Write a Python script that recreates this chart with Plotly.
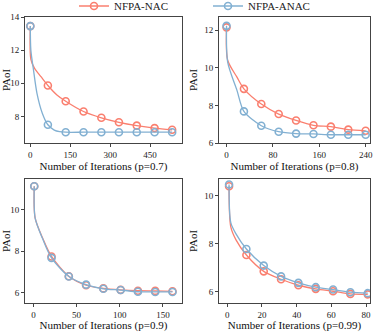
import plotly.graph_objects as go

RED = "#FA7F6F"
BLUE = "#82B0D2"
FONT = "Liberation Serif"

# ---------------- data ----------------
# p = 0.7
p07_mx = [0, 66, 133, 200, 267, 333, 400, 467, 533]
p07_nac = [13.45, 9.87, 8.92, 8.30, 7.92, 7.65, 7.45, 7.30, 7.20]
p07_anac = [13.45, 7.50, 7.05, 7.05, 7.05, 7.05, 7.05, 7.05, 7.05]
p07_nac_curve_x = [0, 2, 16, 40, 66, 100, 133, 200, 267, 333, 400, 467, 533]
p07_nac_curve_y = [13.45, 11.45, 10.90, 10.40, 9.87, 9.30, 8.92, 8.30, 7.92, 7.65, 7.45, 7.30, 7.20]
p07_anac_curve_x = [0, 2, 12, 25, 45, 66, 90, 110, 133, 200, 267, 333, 400, 467, 533]
p07_anac_curve_y = [13.45, 12.0, 10.8, 9.4, 8.2, 7.50, 7.18, 7.08, 7.05, 7.05, 7.05, 7.05, 7.05, 7.05, 7.05]

# p = 0.8
p08_mx = [0, 30, 60, 90, 120, 150, 180, 210, 240]
p08_nac = [12.15, 8.88, 8.07, 7.54, 7.20, 6.94, 6.87, 6.71, 6.65]
p08_anac = [12.23, 7.68, 6.92, 6.60, 6.50, 6.48, 6.44, 6.44, 6.44]
p08_nac_curve_x = [0, 2, 18, 30, 60, 90, 120, 150, 180, 210, 240]
p08_nac_curve_y = [12.15, 10.40, 9.50, 8.88, 8.07, 7.54, 7.20, 6.94, 6.87, 6.71, 6.65]
p08_anac_curve_x = [0, 2, 18, 30, 60, 90, 120, 150, 180, 210, 240]
p08_anac_curve_y = [12.23, 10.30, 8.80, 7.68, 6.92, 6.60, 6.50, 6.48, 6.44, 6.44, 6.44]

# p = 0.9
p09_mx = [1, 21, 41, 61, 81, 101, 121, 141, 161]
p09_nac = [11.11, 7.75, 6.80, 6.37, 6.22, 6.15, 6.11, 6.10, 6.08]
p09_anac = [11.11, 7.68, 6.79, 6.40, 6.20, 6.14, 6.06, 6.05, 6.05]
p09_nac_curve_x = [1, 2, 11, 21, 41, 61, 81, 101, 121, 141, 161]
p09_nac_curve_y = [11.11, 9.60, 8.60, 7.75, 6.80, 6.37, 6.22, 6.15, 6.11, 6.10, 6.08]
p09_anac_curve_x = [1, 2, 11, 21, 41, 61, 81, 101, 121, 141, 161]
p09_anac_curve_y = [11.11, 9.60, 8.57, 7.68, 6.79, 6.40, 6.20, 6.14, 6.06, 6.05, 6.05]

# p = 0.99
p099_mx = [1, 11, 21, 31, 41, 51, 61, 71, 81]
p099_nac = [10.39, 7.52, 6.84, 6.51, 6.26, 6.11, 6.01, 5.90, 5.88]
p099_anac = [10.46, 7.77, 7.08, 6.63, 6.36, 6.18, 6.08, 5.97, 5.93]
p099_nac_curve_x = [1, 2, 5, 11, 21, 31, 41, 51, 61, 71, 81]
p099_nac_curve_y = [10.39, 8.69, 8.15, 7.52, 6.84, 6.51, 6.26, 6.11, 6.01, 5.90, 5.88]
p099_anac_curve_x = [1, 2, 5, 11, 21, 31, 41, 51, 61, 71, 81]
p099_anac_curve_y = [10.46, 8.87, 8.40, 7.77, 7.08, 6.63, 6.36, 6.18, 6.08, 5.97, 5.93]

series_names = ["NFPA-NAC", "NFPA-ANAC"]
x_titles = ["Number of Iterations (p=0.7)", "Number of Iterations (p=0.8)",
            "Number of Iterations (p=0.9)", "Number of Iterations (p=0.99)"]
y_title = "PAoI"

x_ticks = [[0, 150, 300, 450], [0, 80, 160, 240], [0, 50, 100, 150], [0, 20, 40, 60, 80]]
y_ticks = [[8, 10, 12, 14], [6, 8, 10, 12], [6, 8, 10], [6, 8, 10]]
x_ranges = [[-20, 570], [-13, 247.5], [-9.7, 172], [-4.8, 82.3]]
y_ranges = [[6.4, 14.0], [6.0, 12.7], [5.52, 11.46], [5.52, 10.69]]

panels = [
    (p07_mx, p07_nac, p07_anac, p07_nac_curve_x, p07_nac_curve_y, p07_anac_curve_x, p07_anac_curve_y),
    (p08_mx, p08_nac, p08_anac, p08_nac_curve_x, p08_nac_curve_y, p08_anac_curve_x, p08_anac_curve_y),
    (p09_mx, p09_nac, p09_anac, p09_nac_curve_x, p09_nac_curve_y, p09_anac_curve_x, p09_anac_curve_y),
    (p099_mx, p099_nac, p099_anac, p099_nac_curve_x, p099_nac_curve_y, p099_anac_curve_x, p099_anac_curve_y),
]

W, H = 374, 332
# pixel boxes (left, right, top, bottom)
boxes = [(25, 182, 17, 143), (219, 370, 17, 143), (25, 182, 179, 303), (219, 370, 179, 303)]

fig = go.Figure()
colors = [RED, BLUE]
MARKER = dict(symbol="circle-open", size=7, line=dict(width=1.6))

for i, (mx, nac, anac, ncx, ncy, acx, acy) in enumerate(panels):
    xa = "x" if i == 0 else f"x{i+1}"
    ya = "y" if i == 0 else f"y{i+1}"
    for k, (cx, cy, my) in enumerate([(ncx, ncy, nac), (acx, acy, anac)]):
        fig.add_trace(go.Scatter(x=cx, y=cy, mode="lines", line=dict(color=colors[k], width=1.3, shape="spline", smoothing=0.8),
                                 showlegend=False, hoverinfo="skip", xaxis=xa, yaxis=ya))
        fig.add_trace(go.Scatter(x=mx, y=my, mode="markers", name=series_names[k],
                                 marker=dict(MARKER, color=colors[k]),
                                 showlegend=False, xaxis=xa, yaxis=ya))

# legend entries
for k in range(2):
    fig.add_trace(go.Scatter(x=[None], y=[None], mode="lines+markers", name=series_names[k],
                             line=dict(color=colors[k], width=1.3),
                             marker=dict(MARKER, color=colors[k]),
                             showlegend=True))

layout = dict(
    width=W, height=H,
    margin=dict(l=0, r=0, t=0, b=0, autoexpand=False),
    paper_bgcolor="white", plot_bgcolor="white",
    font=dict(family=FONT, size=11, color="#222"),
    showlegend=True,
    legend=dict(orientation="h", x=74 / W, y=1 - 6 / H, xanchor="left", yanchor="middle",
                entrywidth=89, entrywidthmode="pixels",
                font=dict(family=FONT, size=11, color="#222"), bgcolor="rgba(0,0,0,0)",
                itemwidth=30, tracegroupgap=0),
)
for i, (l, r, t, b) in enumerate(boxes):
    sfx = "" if i == 0 else str(i + 1)
    layout[f"xaxis{sfx}"] = dict(
        domain=[l / W, r / W], anchor=f"y{sfx}", range=x_ranges[i], tickvals=x_ticks[i],
        showgrid=False, zeroline=False, showline=True, linecolor="#444", linewidth=1, mirror=True,
        ticks="outside", ticklen=3, tickcolor="#444", tickfont=dict(family=FONT, size=9, color="#222"),
        title=dict(text=x_titles[i], font=dict(family=FONT, size=11, color="#111"), standoff=3),
        automargin=False,
    )
    layout[f"yaxis{sfx}"] = dict(
        domain=[1 - b / H, 1 - t / H], anchor=f"x{sfx}", range=y_ranges[i], tickvals=y_ticks[i],
        showgrid=False, zeroline=False, showline=True, linecolor="#444", linewidth=1, mirror=True,
        ticks="outside", ticklen=3, tickcolor="#444", tickfont=dict(family=FONT, size=9, color="#222"),
        title=dict(text=y_title, font=dict(family=FONT, size=11, color="#111"), standoff=4),
        automargin=False,
    )
fig.update_layout(**layout)
fig.write_html("out.html", config={"displayModeBar": False},
               post_script="document.body.style.margin='0';document.body.style.overflow='hidden';")
